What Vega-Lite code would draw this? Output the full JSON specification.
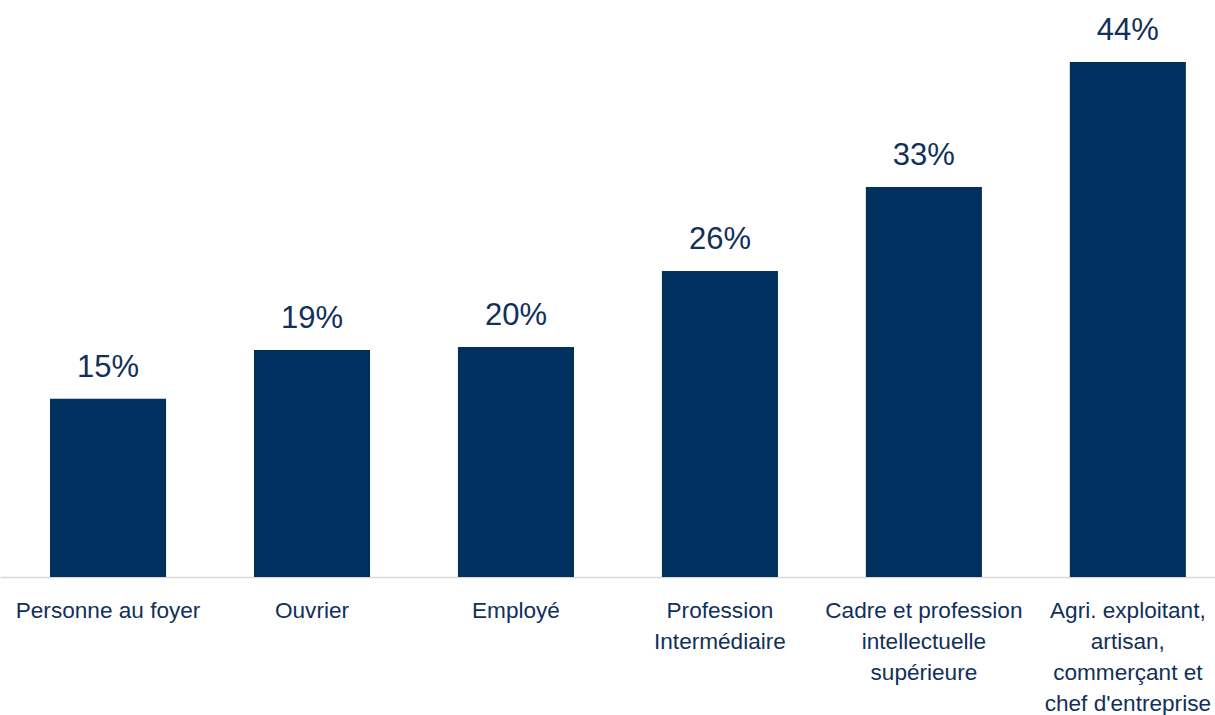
{
  "$schema": "https://vega.github.io/schema/vega-lite/v6.json",
  "width": 1215,
  "height": 577,
  "autosize": {"type": "none"},
  "padding": {"left": 0, "top": 0, "right": 0, "bottom": 138},
  "background": "white",
  "config": {
    "view": {"stroke": null},
    "font": "Liberation Sans"
  },
  "data": {
    "values": [
      {"cat": "Personne au foyer", "value": 0.1514},
      {"cat": "Ouvrier", "value": 0.1928},
      {"cat": "Employé", "value": 0.1953},
      {"cat": "Profession|Intermédiaire", "value": 0.2599},
      {"cat": "Cadre et profession|intellectuelle|supérieure", "value": 0.3312},
      {"cat": "Agri. exploitant,|artisan,|commerçant et|chef d'entreprise", "value": 0.4373}
    ]
  },
  "encoding": {
    "x": {
      "field": "cat",
      "type": "nominal",
      "sort": null,
      "scale": {"paddingInner": 0.431, "paddingOuter": 0.194, "align": 0.632},
      "axis": {
        "title": null,
        "labelAngle": 0,
        "labelExpr": "split(datum.label, '|')",
        "labelFont": "Liberation Sans",
        "labelFontSize": 22.6,
        "labelLineHeight": 31,
        "labelColor": "#11305a",
        "labelBaseline": "top",
        "labelPadding": 22,
        "labelLimit": 400,
        "labelOverlap": false,
        "ticks": false,
        "domainColor": "#d9d9d9",
        "domainWidth": 1.5
      }
    },
    "y": {
      "field": "value",
      "type": "quantitative",
      "scale": {"domain": [0, 0.49], "nice": false, "zero": true},
      "axis": null
    }
  },
  "layer": [
    {"mark": {"type": "bar", "color": "#00305f"}},
    {
      "mark": {
        "type": "text",
        "baseline": "alphabetic",
        "dy": -22,
        "fontSize": 31,
        "font": "Liberation Sans",
        "color": "#11305a"
      },
      "encoding": {"text": {"field": "value", "type": "quantitative", "format": ".0%"}}
    }
  ]
}
